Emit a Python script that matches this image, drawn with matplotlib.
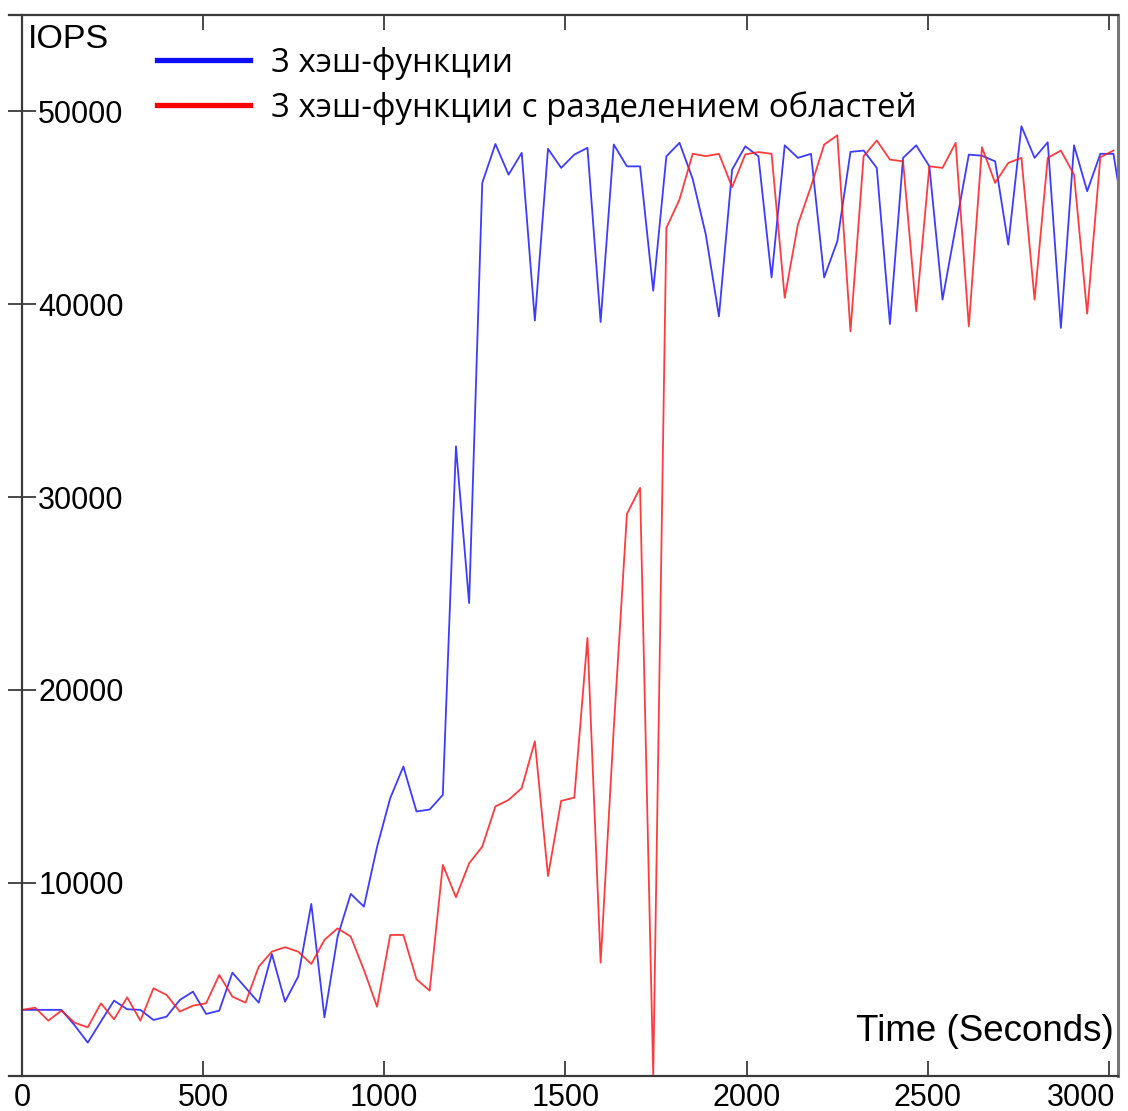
import numpy as np
import matplotlib
matplotlib.use("Agg")
import matplotlib.pyplot as plt
from matplotlib.lines import Line2D
import matplotlib.transforms as mtransforms

# ---------------- data ----------------
sample_interval = 36.3  # seconds between samples

iops_3hash = [3400, 3400, 3400, 3400, 2600, 1700, 2800, 3880, 3430, 3400,
              2875, 3050, 3913, 4345, 3187, 3360, 5330, 4550, 3773, 6300,
              3826, 5122, 8895, 3015, 7200, 9415, 8756, 11850, 14380, 16020,
              13690, 13790, 14550, 32625, 24500, 46290, 48310, 46720, 47850, 39150,
              48060, 47070, 47760, 48110, 39080, 48280, 47150, 47150, 40700, 47670,
              48370, 46500, 43610, 39370, 46980, 48190, 47670, 41390, 48240, 47590,
              47800, 41390, 43260, 47900, 47970, 47070, 38970, 47590, 48240, 47150,
              40240, 44000, 47760, 47700, 47410, 43090, 49230, 47590, 48400, 38770,
              48240, 45860, 47800, 47800, 43500]

iops_3hash_split = [3400, 3513, 2840, 3360, 2735, 2495, 3740, 2910, 4050, 2840,
                    4520, 4170, 3310, 3620, 3740, 5210, 4085, 3775, 5640, 6420,
                    6650, 6420, 5780, 7030, 7630, 7200, 5470, 3565, 7285, 7285,
                    4985, 4395, 10920, 9240, 11000, 11870, 13950, 14290, 14900, 17330,
                    10340, 14240, 14410, 22690, 5850, 18000, 29120, 30475, 0, 43960,
                    45430, 47800, 47680, 47800, 46070, 47770, 47890, 47800, 40330, 44130,
                    46115, 48280, 48760, 38590, 47675, 48490, 47500, 47410, 39630, 47150,
                    47070, 48370, 38850, 48140, 46290, 47330, 47590, 40240, 47590, 47970,
                    46720, 39510, 47620, 47970]

series_labels = ["3 хэш-функции", "3 хэш-функции с разделением областей"]
x_ticks = [0, 500, 1000, 1500, 2000, 2500, 3000]
y_ticks = [10000, 20000, 30000, 40000, 50000]
y_tick_labels = ["10000", "20000", "30000", "40000", "50000"]

t_blue = np.arange(len(iops_3hash)) * sample_interval
t_red = np.arange(len(iops_3hash_split)) * sample_interval

# ---------------- figure ----------------
W, H = 1128, 1111
fig = plt.figure(figsize=(W / 100, H / 100), dpi=100)
left_px, right_px, top_px, bottom_px = 22, 1117.5, 15, 1076
ax = fig.add_axes([left_px / W, 1 - bottom_px / H,
                   (right_px - left_px) / W, (bottom_px - top_px) / H])

ax.plot(t_blue, iops_3hash, color=(0.1, 0.1, 1.0), lw=1.3, alpha=0.85)
ax.plot(t_red, iops_3hash_split, color=(1.0, 0.1, 0.1), lw=1.3, alpha=0.85)

ax.set_xlim(0, 3024)
ax.set_ylim(-30, 55000)

tick_font = "Liberation Sans"
spine_col = "#3a3a3a"
for s in ["left", "top", "bottom"]:
    ax.spines[s].set_color(spine_col)
    ax.spines[s].set_linewidth(1.6)
ax.spines["right"].set_color("#777777")
ax.spines["right"].set_linewidth(2.2)
ax.spines["bottom"].set_bounds(-36, 3024)
ax.spines["top"].set_bounds(-36, 3024)

ax.set_xticks(x_ticks)
ax.set_xticklabels([str(v) for v in x_ticks], fontfamily=tick_font, fontsize=22)
ax.tick_params(axis="x", direction="in", length=11, width=1.3, color=spine_col,
               top=True, bottom=True, pad=5)
for lab in ax.get_xticklabels():
    if lab.get_text() == "3000":
        lab.set_horizontalalignment("right")
        lab.set_transform(lab.get_transform() +
                          mtransforms.ScaledTranslation(6 / 100, 0, fig.dpi_scale_trans))

ax.set_yticks(y_ticks)
ax.set_yticklabels(y_tick_labels, fontfamily=tick_font, fontsize=22)
ax.tick_params(axis="y", direction="inout", length=19.5, width=1.3, color=spine_col,
               pad=-21.5, right=False)
for lab in ax.get_yticklabels():
    lab.set_horizontalalignment("left")

ax.text((28 - left_px) / (right_px - left_px), 1 - (24 - top_px) / (bottom_px - top_px),
        "IOPS", transform=ax.transAxes, ha="left", va="top",
        fontfamily=tick_font, fontsize=24.5)
ax.text((1114 - left_px) / (right_px - left_px), (bottom_px - 1041) / (bottom_px - top_px),
        "Time (Seconds)", transform=ax.transAxes, ha="right", va="baseline",
        fontfamily=tick_font, fontsize=26.5)

handles = [Line2D([], [], color=(0.05, 0.05, 1.0), lw=3.8),
           Line2D([], [], color=(1.0, 0.0, 0.0), lw=3.8)]
leg = ax.legend(handles, series_labels, loc="upper left",
                bbox_to_anchor=((157 - left_px) / (right_px - left_px),
                                1 - (47 - top_px) / (bottom_px - top_px)),
                frameon=False, borderpad=0, borderaxespad=0,
                handlelength=2.82, handletextpad=0.64, labelspacing=0.34,
                prop={"family": "Open Sans", "size": 23.8})

fig.savefig("out.png", dpi=100)
